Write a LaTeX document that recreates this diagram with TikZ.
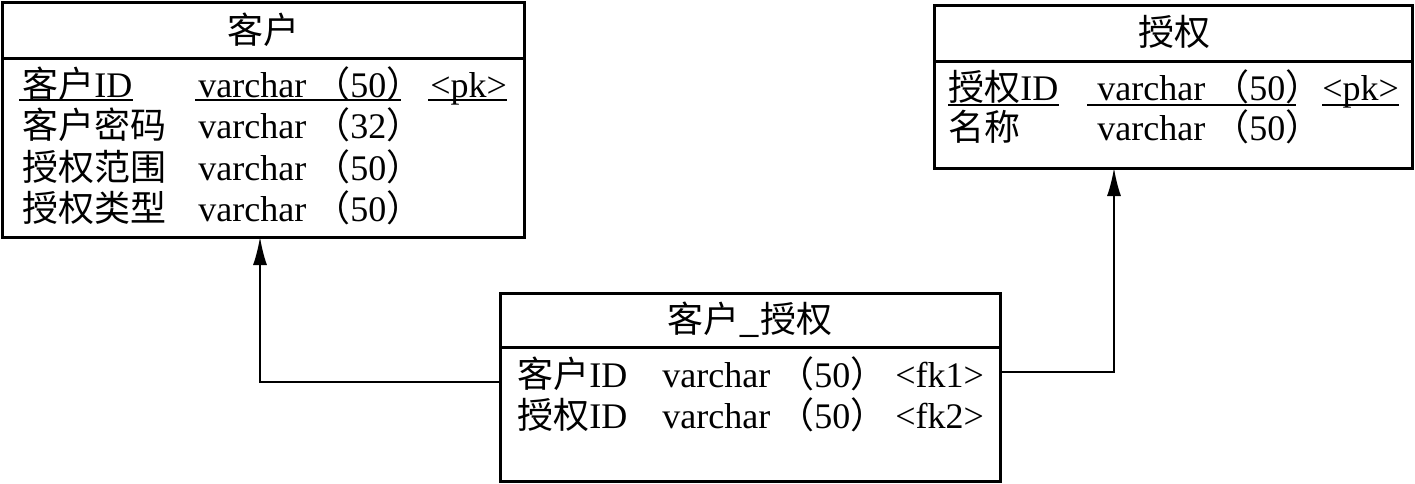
\documentclass[tikz,border=0pt]{standalone}
\usepackage{fontspec}
\setmainfont{Liberation Serif}
\newfontfamily\cjk{Noto Sans CJK SC}
\newcommand{\zh}[1]{{\cjk #1}}
\newcommand{\vc}[1]{varchar\hspace{4pt}\zh{（}#1\zh{）}}
\usetikzlibrary{positioning}
\usetikzlibrary{fit}
\usetikzlibrary{arrows.meta}

\tikzset{
  tbl/.style={draw, line width=1.5pt, inner sep=0pt, outer sep=0pt},
  rule/.style={line width=1.5pt},
  link/.style={line width=0.9pt, -{Latex[length=14pt,width=7pt]}},
  uline/.style={line width=0.7pt},
  fld/.style={anchor=base west, inner sep=0pt},
  ttl/.style={anchor=base, inner sep=0pt}
}

\begin{document}
\begin{tikzpicture}[x=0.5pt, y=-0.5pt, font=\fontsize{18}{20}\selectfont]
	\useasboundingbox (0,0) rectangle (1415,483);

	% table kehu
	\node [tbl, fit={(2,2) (524,237)}] (kh) {};
	\draw [rule] (kh.west |- 0,58) -- (kh.east |- 0,58);
	\node [ttl] (kh-t) at (263,43) {\zh{客户}};
	\node [fld] (kh-n1) at (22,97) {\zh{客户}ID};
	\node [fld] (kh-y1) at (198,97) {\vc{50}};
	\node [fld] (kh-k1) at (430,97) {<pk>};
	\node [fld] (kh-n2) at (22,138.5) {\zh{客户密码}};
	\node [fld] (kh-y2) at (198,138.5) {\vc{32}};
	\node [fld] (kh-n3) at (22,180) {\zh{授权范围}};
	\node [fld] (kh-y3) at (198,180) {\vc{50}};
	\node [fld] (kh-n4) at (22,221.5) {\zh{授权类型}};
	\node [fld] (kh-y4) at (198,221.5) {\vc{50}};
	\draw [uline] ([shift={(-1.5pt,-1.5pt)}]kh-n1.base west) -- ([yshift=-1.5pt]kh-n1.base east);
	\draw [uline] ([shift={(-1.5pt,-1.5pt)}]kh-y1.base west) -- ([shift={(-11pt,-1.5pt)}]kh-y1.base east);
	\draw [uline] ([shift={(-1pt,-1.5pt)}]kh-k1.base west) -- ([yshift=-1.5pt]kh-k1.base east);

	% table shouquan
	\node [tbl, fit={(934,5) (1412,168)}] (sq) {};
	\draw [rule] (sq.west |- 0,61) -- (sq.east |- 0,61);
	\node [ttl] (sq-t) at (1174,45) {\zh{授权}};
	\node [fld] (sq-n1) at (948,100) {\zh{授权}ID};
	\node [fld] (sq-y1) at (1097,100) {\vc{50}};
	\node [fld] (sq-k1) at (1322,100) {<pk>};
	\node [fld] (sq-n2) at (948,140) {\zh{名称}};
	\node [fld] (sq-y2) at (1097,140) {\vc{50}};
	\draw [uline] ([yshift=-2.5pt]sq-n1.base west) -- ([yshift=-2.5pt]sq-n1.base east);
	\draw [uline] ([shift={(-5pt,-2.5pt)}]sq-y1.base west) -- ([shift={(-13pt,-2.5pt)}]sq-y1.base east);
	\draw [uline] ([yshift=-2.5pt]sq-k1.base west) -- ([yshift=-2.5pt]sq-k1.base east);

	% table kehu_shouquan
	\node [tbl, fit={(500,293) (1000,481)}] (khsq) {};
	\draw [rule] (khsq.west |- 0,347) -- (khsq.east |- 0,347);
	\node [ttl] (khsq-t) at (750,332) {\zh{客户\_授权}};
	\node [fld] (khsq-n1) at (517,387) {\zh{客户}ID};
	\node [fld] (khsq-y1) at (662,387) {\vc{50}};
	\node [fld] (khsq-k1) at (895,387) {<fk1>};
	\node [fld] (khsq-n2) at (517,428) {\zh{授权}ID};
	\node [fld] (khsq-y2) at (662,428) {\vc{50}};
	\node [fld] (khsq-k2) at (895,428) {<fk2>};

	% references
	\draw [link] (khsq.west |- 0,382) -| (kh.south -| 260,0);
	\draw [link] (khsq.east |- 0,372) -| (sq.south -| 1114,0);
\end{tikzpicture}
\end{document}
